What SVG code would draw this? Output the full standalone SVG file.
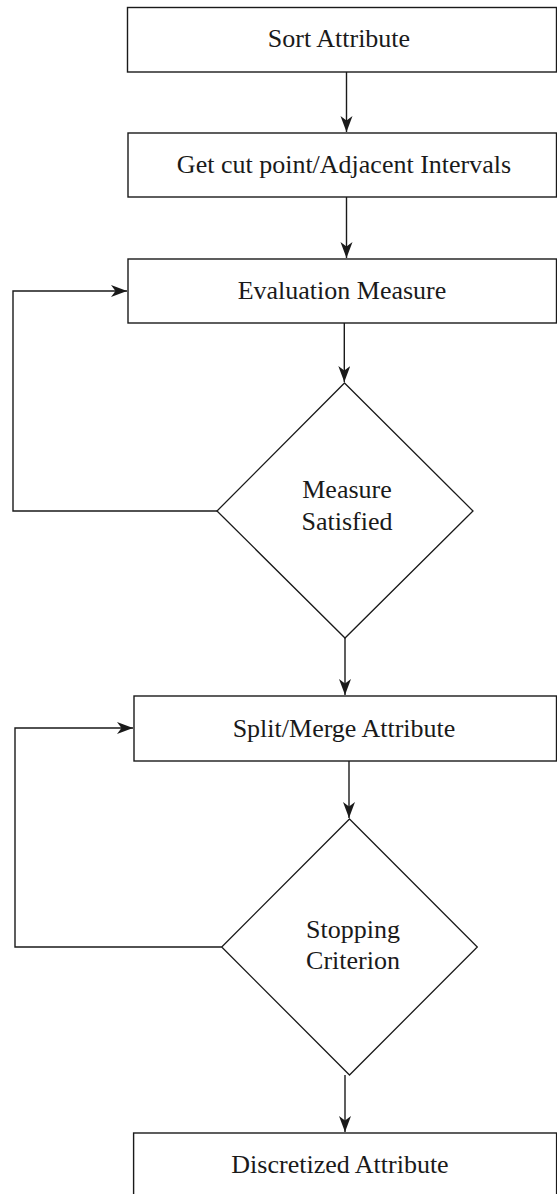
<svg xmlns="http://www.w3.org/2000/svg" width="557" height="1194" viewBox="0 0 557 1194">
<style>
.box{fill:#fff;stroke:#1a1a1a;stroke-width:1.4}
.dia{fill:#fff;stroke:#1a1a1a;stroke-width:1.3}
.lbl{font-family:'Liberation Serif','Times New Roman',Times,serif;font-size:26px;fill:#1a1a1a;text-anchor:middle}
.edge{fill:none;stroke:#1a1a1a;stroke-width:1.4}
</style>
<defs>
<marker id="arr" markerUnits="userSpaceOnUse" markerWidth="17" markerHeight="13" refX="16" refY="6" orient="auto">
<path d="M0,0 L16,6 L0,12 L4.5,6 z" fill="#1a1a1a"/>
</marker>
</defs>
<rect width="557" height="1194" fill="#fff"/>
<g id="connectors">
<path class="edge" d="M346.5,72 V132" marker-end="url(#arr)"/>
<path class="edge" d="M346.5,197 V258" marker-end="url(#arr)"/>
<path class="edge" d="M344.3,323 V382" marker-end="url(#arr)"/>
<path class="edge" d="M217,511 H13 V291 H127" marker-end="url(#arr)"/>
<path class="edge" d="M345,638 V695" marker-end="url(#arr)"/>
<path class="edge" d="M349,761 V818" marker-end="url(#arr)"/>
<path class="edge" d="M221.7,947 H15 V728 H133" marker-end="url(#arr)"/>
<path class="edge" d="M345,1075 V1132" marker-end="url(#arr)"/>
</g>
<g id="sort">
<rect class="box" x="127.5" y="7.5" width="429" height="64.5"/>
<text class="lbl" font-family="Liberation Serif, serif" x="339" y="47">Sort Attribute</text>
</g>
<g id="cutpoint">
<rect class="box" x="128" y="133" width="428.5" height="64"/>
<text class="lbl" font-family="Liberation Serif, serif" x="344" y="173">Get cut point/Adjacent Intervals</text>
</g>
<g id="evaluation">
<rect class="box" x="128" y="259" width="428.5" height="64"/>
<text class="lbl" font-family="Liberation Serif, serif" x="342" y="298.5">Evaluation Measure</text>
</g>
<g id="measure-satisfied">
<polygon class="dia" points="344.5,383 473,511 345,638 217,511"/>
<text class="lbl" font-family="Liberation Serif, serif" x="347" y="498">Measure</text>
<text class="lbl" font-family="Liberation Serif, serif" x="347" y="530">Satisfied</text>
</g>
<g id="split-merge">
<rect class="box" x="134" y="696" width="422.5" height="65"/>
<text class="lbl" font-family="Liberation Serif, serif" x="344" y="737">Split/Merge Attribute</text>
</g>
<g id="stopping">
<polygon class="dia" points="349.5,819 477.3,947 349.5,1075 221.7,947"/>
<text class="lbl" font-family="Liberation Serif, serif" x="353" y="937.5">Stopping</text>
<text class="lbl" font-family="Liberation Serif, serif" x="353" y="969">Criterion</text>
</g>
<g id="discretized">
<rect class="box" x="133.6" y="1133" width="423" height="64"/>
<text class="lbl" font-family="Liberation Serif, serif" x="340" y="1173">Discretized Attribute</text>
</g>
</svg>
